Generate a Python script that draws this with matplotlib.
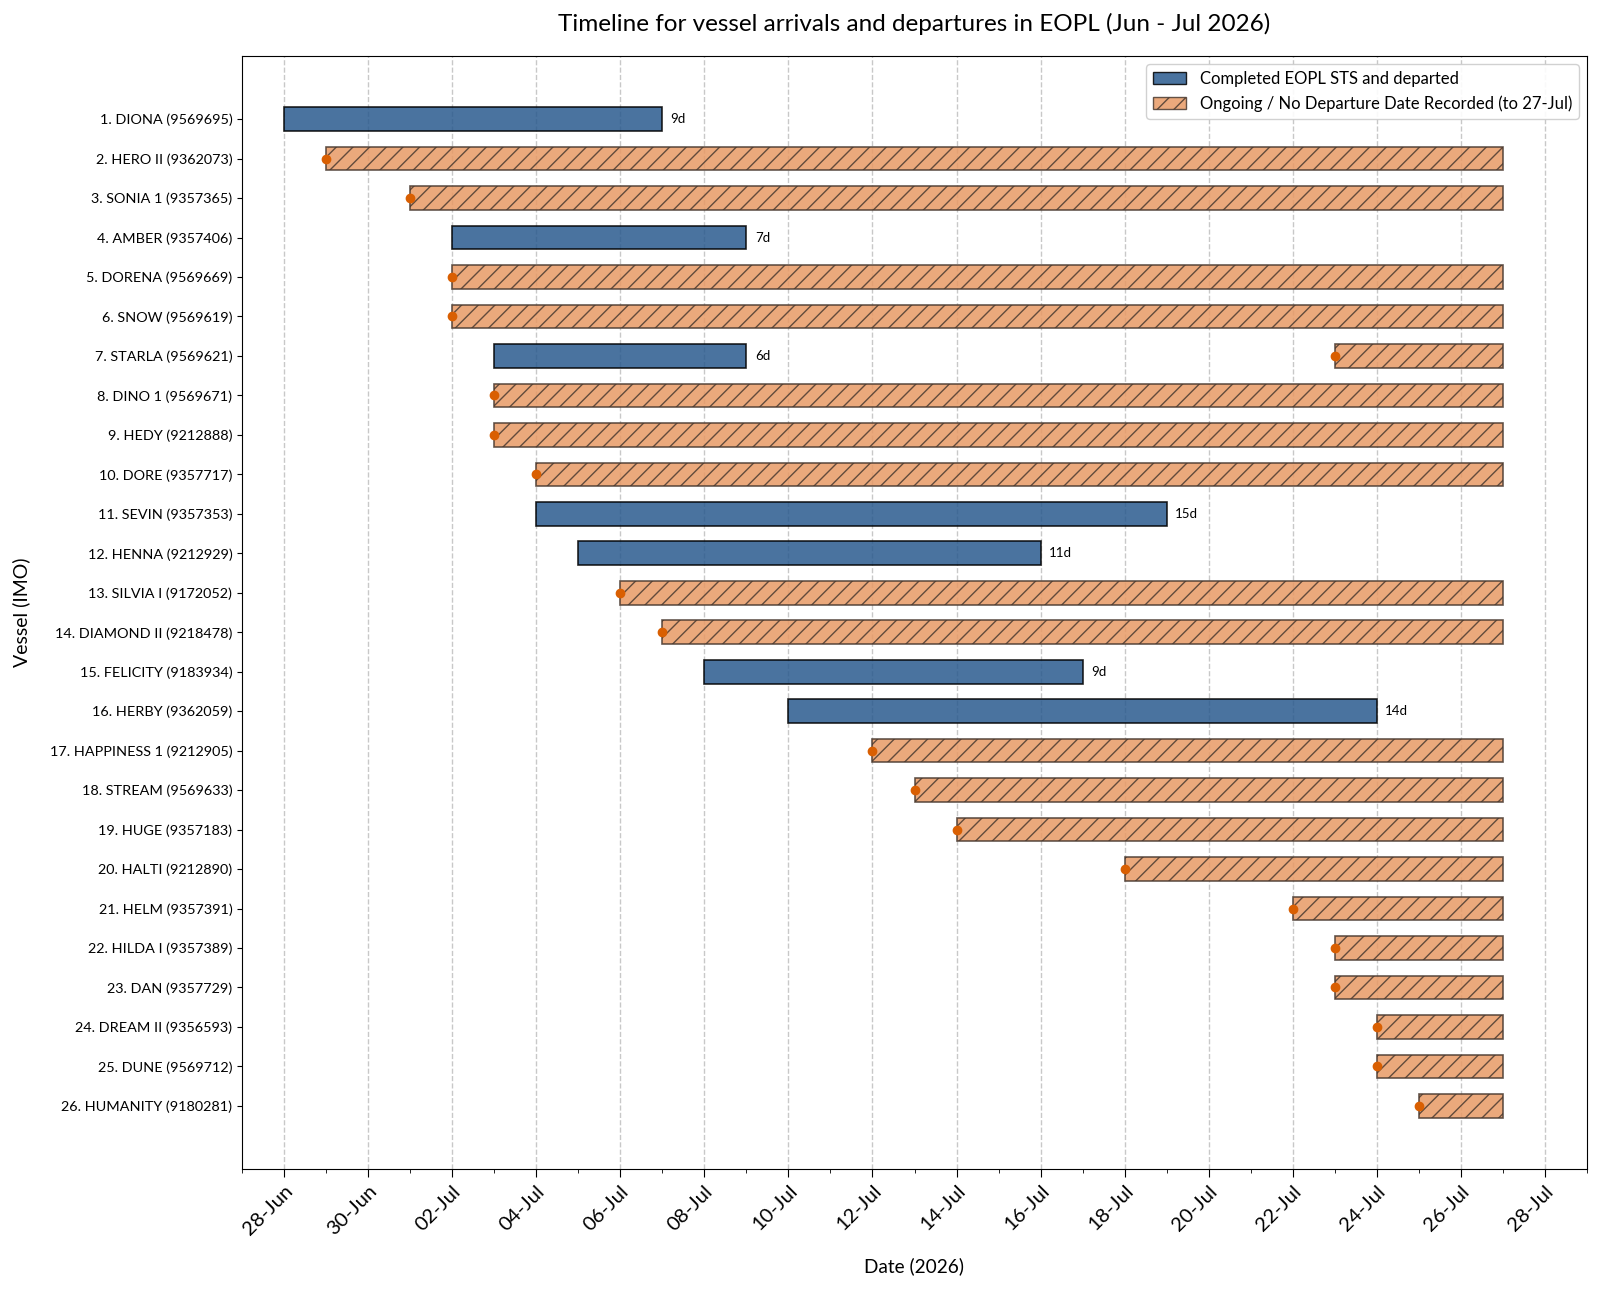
import matplotlib
matplotlib.use("Agg")
import matplotlib.pyplot as plt
import matplotlib.dates as mdates
from matplotlib.patches import Patch
import pandas as pd

plt.rcParams['font.family'] = ['Lato', 'DejaVu Sans']

vessels = ["1. DIONA (9569695)", "2. HERO II (9362073)", "3. SONIA 1 (9357365)",
           "4. AMBER (9357406)", "5. DORENA (9569669)", "6. SNOW (9569619)",
           "7. STARLA (9569621)", "8. DINO 1 (9569671)", "9. HEDY (9212888)",
           "10. DORE (9357717)", "11. SEVIN (9357353)", "12. HENNA (9212929)",
           "13. SILVIA I (9172052)", "14. DIAMOND II (9218478)", "15. FELICITY (9183934)",
           "16. HERBY (9362059)", "17. HAPPINESS 1 (9212905)", "18. STREAM (9569633)",
           "19. HUGE (9357183)", "20. HALTI (9212890)", "21. HELM (9357391)",
           "22. HILDA I (9357389)", "23. DAN (9357729)", "24. DREAM II (9356593)",
           "25. DUNE (9569712)", "26. HUMANITY (9180281)"]

# completed visits: vessel index, arrival, departure
done_idx = [0, 3, 6, 10, 11, 14, 15]
done_arr = ["2026-06-28", "2026-07-02", "2026-07-03", "2026-07-04", "2026-07-05", "2026-07-08", "2026-07-10"]
done_dep = ["2026-07-07", "2026-07-09", "2026-07-09", "2026-07-19", "2026-07-16", "2026-07-17", "2026-07-24"]

# ongoing visits: vessel index, arrival (shown up to cutoff)
ongo_idx = [1, 2, 4, 5, 6, 7, 8, 9, 12, 13, 16, 17, 18, 19, 20, 21, 22, 23, 24, 25]
ongo_arr = ["2026-06-29", "2026-07-01", "2026-07-02", "2026-07-02", "2026-07-23", "2026-07-03",
            "2026-07-03", "2026-07-04", "2026-07-06", "2026-07-07", "2026-07-12", "2026-07-13",
            "2026-07-14", "2026-07-18", "2026-07-22", "2026-07-23", "2026-07-23", "2026-07-24",
            "2026-07-24", "2026-07-25"]
cutoff = "2026-07-27"

tick_dates = pd.date_range("2026-06-28", "2026-07-28", freq="2D")

fig = plt.figure(figsize=(16, 12.9), dpi=100)
ax = fig.add_axes([242/1600, 1 - 1169/1290, (1587-242)/1600, (1169-56)/1290])

blue = "#2a5a8e"
orange = "#e89a65"
h = 0.6
plt.rcParams['hatch.color'] = "#4a3a30"
plt.rcParams['hatch.linewidth'] = 1.0

da = pd.to_datetime(done_arr)
dd = pd.to_datetime(done_dep)
for i, a, d in zip(done_idx, da, dd):
    x0 = mdates.date2num(a)
    w = mdates.date2num(d) - x0
    ax.barh(i, w, left=x0, height=h, color=blue, alpha=0.85, edgecolor="black", linewidth=1.2, zorder=3)
    ax.text(mdates.date2num(d) + 0.2, i, f"{(d - a).days}d", va="center", ha="left", fontsize=9.5, zorder=4)

oa = pd.to_datetime(ongo_arr)
cend = mdates.date2num(pd.Timestamp(cutoff))
for i, a in zip(ongo_idx, oa):
    x0 = mdates.date2num(a)
    ax.barh(i, cend - x0, left=x0, height=h, color=orange, alpha=0.85, edgecolor="#4a3a30",
            hatch="//", linewidth=1.2, zorder=3)
    ax.plot(x0, i, "o", color="#d95f02", markersize=6, zorder=5)

ax.set_yticks(range(len(vessels)))
ax.set_yticklabels(vessels, fontsize=10.4)
ax.set_ylim(len(vessels) - 1 + 1.6, -1.6)

ax.set_xlim(mdates.date2num(pd.Timestamp("2026-06-27")), mdates.date2num(pd.Timestamp("2026-07-29")))
ax.set_xticks(mdates.date2num(tick_dates))
ax.xaxis.set_major_formatter(mdates.DateFormatter("%d-%b"))
ax.xaxis.set_minor_locator(mdates.DayLocator())
plt.setp(ax.get_xticklabels(), rotation=45, ha="right", fontsize=14.5, rotation_mode="anchor")
ax.tick_params(axis="x", which="major", length=6)
ax.tick_params(axis="x", which="minor", length=3)
ax.grid(axis="x", which="major", linestyle="--", color="#bbbbbb", linewidth=1, alpha=0.8, zorder=0)
ax.set_axisbelow(True)

ax.set_xlabel("Date (2026)", fontsize=13.7, labelpad=14)
ax.set_ylabel("Vessel (IMO)", fontsize=14, labelpad=14)
ax.set_title("Timeline for vessel arrivals and departures in EOPL (Jun - Jul 2026)", fontsize=17.5, pad=18)

handles = [Patch(facecolor=blue, alpha=0.85, edgecolor="black", label="Completed EOPL STS and departed"),
           Patch(facecolor=orange, alpha=0.85, edgecolor="#4a3a30", hatch="//",
                 label="Ongoing / No Departure Date Recorded (to 27-Jul)")]
ax.legend(handles=handles, loc="upper right", fontsize=12, framealpha=0.9)

fig.savefig("out.png", dpi=100)
